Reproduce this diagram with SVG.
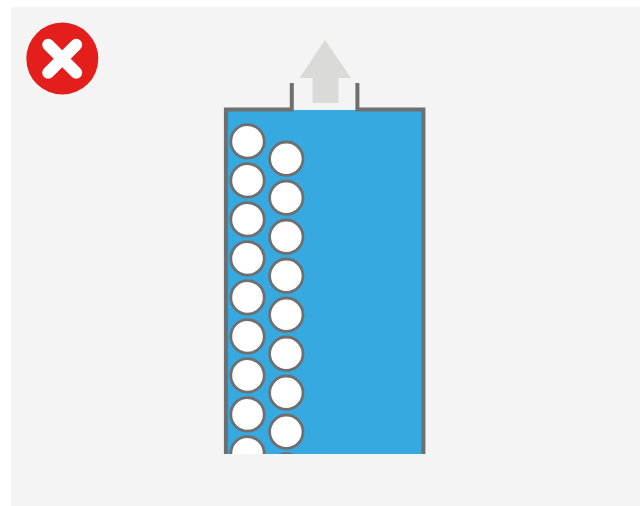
<svg xmlns="http://www.w3.org/2000/svg" width="640" height="506" viewBox="0 0 640 506">
  <style>
    .ball{fill:#fff;stroke:#706f6f;stroke-width:2.8}
    .wall{fill:none;stroke:#706f6f;stroke-width:4}
  </style>
  <defs>
    <clipPath id="cut"><rect x="220" y="80" width="210" height="374"/></clipPath>
    <circle id="b" r="16.7" class="ball"/>
  </defs>
  <rect width="640" height="506" fill="#fff"/>
  <rect x="11" y="7" width="629" height="499" fill="#f4f4f4"/>
  <g id="error-badge">
    <circle cx="62.3" cy="58.6" r="36" fill="#e31e1b"/>
    <path d="M48.2 44.8L76.2 72.8M76.2 44.8L48.2 72.8" fill="none" stroke="#fff" stroke-width="12" stroke-linecap="round"/>
  </g>
  <g id="vessel" clip-path="url(#cut)">
    <rect x="226" y="110" width="197" height="350" fill="#36a9e1"/>
    <path class="wall" d="M225.9 460V109.5H291.8V83M357.4 83V109.5H423.4V460"/>
    <g id="balls-left">
      <use href="#b" x="247.5" y="141.4"/>
      <use href="#b" x="247.5" y="180.4"/>
      <use href="#b" x="247.5" y="219.4"/>
      <use href="#b" x="247.5" y="258.4"/>
      <use href="#b" x="247.5" y="297.4"/>
      <use href="#b" x="247.5" y="336.4"/>
      <use href="#b" x="247.5" y="375.4"/>
      <use href="#b" x="247.5" y="414.4"/>
      <use href="#b" x="247.5" y="453.4"/>
    </g>
    <g id="balls-right">
      <use href="#b" x="286.3" y="158.7"/>
      <use href="#b" x="286.3" y="197.7"/>
      <use href="#b" x="286.3" y="236.7"/>
      <use href="#b" x="286.3" y="275.7"/>
      <use href="#b" x="286.3" y="314.7"/>
      <use href="#b" x="286.3" y="353.7"/>
      <use href="#b" x="286.3" y="392.7"/>
      <use href="#b" x="286.3" y="431.7"/>
      <use href="#b" x="286.3" y="470.4"/>
    </g>
  </g>
  <g id="arrow">
    <path d="M325 40L351 78H338.5V103H312.5V78H299.5Z" fill="#dadad9"/>
  </g>
</svg>
